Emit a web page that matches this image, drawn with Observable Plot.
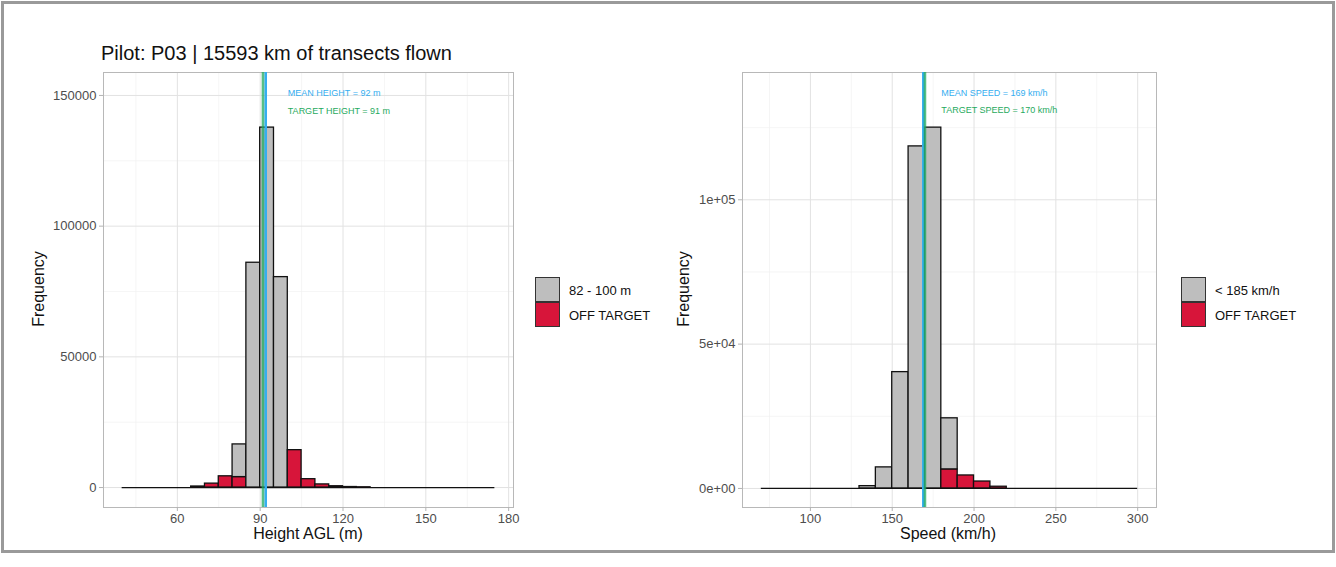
<!DOCTYPE html>
<html><head><meta charset="utf-8">
<script src="https://cdn.jsdelivr.net/npm/d3@7"></script>
<script src="https://cdn.jsdelivr.net/npm/@observablehq/plot@0.6"></script>
<style>
body{margin:0;background:#fff;font-family:"Liberation Sans",Arial,sans-serif;}
#root{position:relative;width:1336px;height:567px;overflow:hidden;background:#fff;}
.outer{position:absolute;left:1px;top:1px;width:1328px;height:546px;border:3px solid #9a9a9a;}
.abs{position:absolute;white-space:nowrap;line-height:1;}
.title{font-size:20px;color:#111;}
.axt{font-size:16px;color:#111;}
.rot{transform:translate(-50%,-50%) rotate(-90deg);}
.ctr{transform:translate(-50%,-50%);}
.key{position:absolute;width:23px;height:23px;border:1.5px solid #333;}
.lt{font-size:13px;color:#111;transform:translateY(-50%);}
.plot{position:absolute;}
</style></head><body><div id="root"></div><script>
// ---------- data ----------
const titleText = "Pilot: P03 | 15593 km of transects flown";

// Height histogram (bin width 5 m)
const heightBinWidth = 5;
const heightBins = [40,45,50,55,60,65,70,75,80,85,90,95,100,105,110,115,120,125,130,135,140,145,150,155,160,165,170];
const heightOnTarget = [0,0,0,0,0,0,0,0,12500,86000,137700,80500,0,0,0,0,0,0,0,0,0,0,0,0,0,0,0];
const heightOffTarget = [0,0,0,0,0,400,1500,4300,4000,0,0,0,14300,3200,1200,500,200,100,0,0,0,0,0,0,0,0,0];
const heightMean = 92, heightTarget = 91;
const heightLegend = ["82 - 100 m", "OFF TARGET"];
const heightXTicks = [60,90,120,150,180];
const heightXMinor = [45,75,105,135,165];
const heightYTicks = [0,50000,100000,150000];
const heightYMinor = [25000,75000,125000];
const heightNotes = [
  {x: 100, y: 151000, text: "MEAN HEIGHT = 92 m", kind: "mean"},
  {x: 100, y: 144000, text: "TARGET HEIGHT = 91 m", kind: "target"}
];

// Speed histogram (bin width 10 km/h)
const speedBinWidth = 10;
const speedBins = [70,80,90,100,110,120,130,140,150,160,170,180,190,200,210,220,230,240,250,260,270,280,290];
const speedOnTarget = [0,0,0,0,0,0,800,7300,40300,118500,125000,17700,0,0,0,0,0,0,0,0,0,0,0];
const speedOffTarget = [0,0,0,0,0,0,0,0,0,0,0,6600,4500,2400,600,0,0,0,0,0,0,0,0];
const speedMean = 169, speedTarget = 170;
const speedLegend = ["< 185 km/h", "OFF TARGET"];
const speedXTicks = [100,150,200,250,300];
const speedXMinor = [75,125,175,225,275];
const speedYTicks = [0,50000,100000];
const speedYTickLabels = ["0e+00","5e+04","1e+05"];
const speedYMinor = [25000,75000,125000];
const speedNotes = [
  {x: 180, y: 137000, text: "MEAN SPEED = 169 km/h", kind: "mean"},
  {x: 180, y: 131000, text: "TARGET SPEED = 170 km/h", kind: "target"}
];

// ---------- style ----------
const GRAY = "#bebebe", RED = "#d7153a", BLUE = "#35aef0", GREEN = "#1faa5e";

function extentDomain(bins, w) {
  const lo = bins[0], hi = bins[bins.length - 1] + w, pad = (hi - lo) * 0.05;
  return [lo - pad, hi + pad];
}

function panel(o) {
  const rows = [];
  o.bins.forEach((b, i) => {
    const r = o.off[i], g = o.on[i];
    if (r > 0) rows.push({x1: b, x2: b + o.w, y1: 0, y2: r, cat: "off"});
    if (g > 0) rows.push({x1: b, x2: b + o.w, y1: r, y2: r + g, cat: "on"});
  });
  return Plot.plot({
    width: 530, height: 480,
    marginLeft: o.ml, marginRight: o.mr, marginTop: 7, marginBottom: 38,
    x: {domain: extentDomain(o.bins, o.w)},
    y: {domain: o.yDomain},
    style: {fontFamily: "'Liberation Sans', Arial, sans-serif", fontSize: "13px", color: "#4d4d4d", background: "transparent", overflow: "visible"},
    marks: [
      Plot.gridX(o.xMinor, {stroke: "#f0f0f0", strokeOpacity: 1, strokeWidth: 0.7}),
      Plot.gridY(o.yMinor, {stroke: "#f0f0f0", strokeOpacity: 1, strokeWidth: 0.7}),
      Plot.gridX(o.xTicks, {stroke: "#e2e2e2", strokeOpacity: 1, strokeWidth: 1}),
      Plot.gridY(o.yTicks, {stroke: "#e2e2e2", strokeOpacity: 1, strokeWidth: 1}),
      Plot.frame({stroke: "#b8b8b8"}),
      Plot.axisX(o.xTicks, {tickSize: 4, stroke: "#b3b3b3", fill: "#4d4d4d", tickPadding: 2, label: null}),
      Plot.axisY(o.yTicks, {tickSize: 4, stroke: "#b3b3b3", fill: "#4d4d4d", tickPadding: 3, label: null, tickFormat: o.yFormat}),
      Plot.ruleY([0], {x1: o.bins[0], x2: o.bins[o.bins.length - 1] + o.w, stroke: "#111", strokeWidth: 1.3}),
      Plot.rect(rows, {x1: "x1", x2: "x2", y1: "y1", y2: "y2", fill: d => d.cat === "on" ? GRAY : RED, stroke: "#111", strokeWidth: 1.3}),
      Plot.ruleX([o.mean], {stroke: BLUE, strokeWidth: 2.6}),
      Plot.ruleX([o.target], {stroke: GREEN, strokeWidth: 2.6, strokeOpacity: 0.75}),
      Plot.text(o.notes, {x: "x", y: "y", text: "text", textAnchor: "start", fill: d => d.kind === "mean" ? BLUE : GREEN, fontSize: 9})
    ]
  });
}

const root = document.getElementById("root");
function add(html) { root.insertAdjacentHTML("beforeend", html); }
add('<div class="outer"></div>');

const left = panel({
  bins: heightBins, w: heightBinWidth, on: heightOnTarget, off: heightOffTarget,
  mean: heightMean, target: heightTarget, notes: heightNotes,
  xTicks: heightXTicks, xMinor: heightXMinor, yTicks: heightYTicks, yMinor: heightYMinor,
  yDomain: [-7634, 158779], yFormat: d => String(d), ml: 103, mr: 17
});
left.classList.add("plot"); left.style.left = "0px"; left.style.top = "65px";
root.appendChild(left);

const right = panel({
  bins: speedBins, w: speedBinWidth, on: speedOnTarget, off: speedOffTarget,
  mean: speedMean, target: speedTarget, notes: speedNotes,
  xTicks: speedXTicks, xMinor: speedXMinor, yTicks: speedYTicks, yMinor: speedYMinor,
  yDomain: [-6600, 144100], yFormat: d => speedYTickLabels[speedYTicks.indexOf(d)], ml: 102, mr: 14
});
right.classList.add("plot"); right.style.left = "640px"; right.style.top = "65px";
root.appendChild(right);

// text
add(`<div class="abs title" style="left:101px;top:43px">${titleText}</div>`);
add(`<div class="abs axt rot" style="left:39px;top:289px">Frequency</div>`);
add(`<div class="abs axt rot" style="left:684px;top:289px">Frequency</div>`);
add(`<div class="abs axt ctr" style="left:308px;top:534px">Height AGL (m)</div>`);
add(`<div class="abs axt ctr" style="left:948px;top:534px">Speed (km/h)</div>`);

// legends
function legend(x, labels) {
  add(`<div class="key" style="left:${x}px;top:277px;background:${GRAY}"></div>`);
  add(`<div class="key" style="left:${x}px;top:302px;background:${RED}"></div>`);
  add(`<div class="abs lt" style="left:${x + 34}px;top:290px">${labels[0]}</div>`);
  add(`<div class="abs lt" style="left:${x + 34}px;top:315px">${labels[1]}</div>`);
}
legend(535, heightLegend);
legend(1181, speedLegend);
</script></body></html>
